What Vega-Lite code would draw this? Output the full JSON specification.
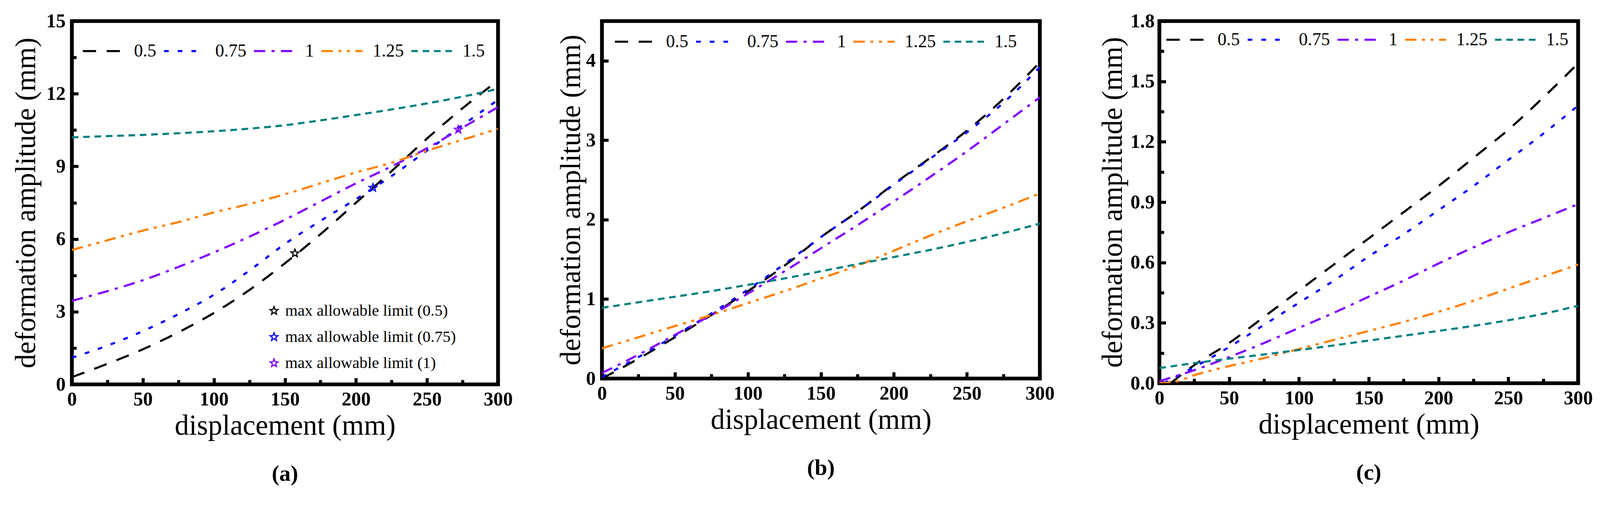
{
  "$schema": "https://vega.github.io/schema/vega-lite/v6.json",
  "padding": {"left": 27, "top": 24, "right": 0, "bottom": 0},
  "spacing": 103,
  "resolve": {"scale": {"color": "independent", "strokeDash": "independent"}, "legend": {"color": "independent", "strokeDash": "independent"}},
  "config": {
    "font": "Liberation Serif",
    "view": {"stroke": "#000000", "strokeWidth": 9.7},
    "axis": {
      "domain": false, "grid": false,
      "labelFont": "Liberation Serif", "labelFontSize": 49.6, "labelFontWeight": "bold", "labelColor": "#000000",
      "labelFlush": false, "labelOverlap": false,
      "titleFont": "Liberation Serif", "titleFontSize": 73, "titleFontWeight": "normal", "titleColor": "#000000",
      "tickColor": "#000000", "tickWidth": 7.8, "labelPadding": 33, "titlePadding": 8
    },
    "axisX": {"labelPadding": 30.5, "titlePadding": 3},
    "legend": {
      "labelFont": "Liberation Serif", "labelFontSize": 45.7, "labelColor": "#000000", "labelFontWeight": "normal",
      "symbolStrokeWidth": 5, "labelOffset": 23, "columnPadding": 8,
      "padding": 0, "labelLimit": 1000, "rowPadding": 20
    },
    "title": {"font": "Liberation Serif", "fontSize": 58, "fontWeight": "bold", "orient": "bottom", "offset": 58, "color": "#000000", "anchor": "middle"},
    "line": {"strokeWidth": 5.4, "interpolate": "monotone", "strokeCap": "butt"}
  },
  "datasets": {
    "a": [
      {"s":"0.5","x":0,"y":0.3},{"s":"0.5","x":25,"y":0.85},{"s":"0.5","x":50,"y":1.45},{"s":"0.5","x":75,"y":2.15},{"s":"0.5","x":100,"y":2.95},{"s":"0.5","x":125,"y":3.9},{"s":"0.5","x":150,"y":5.0},{"s":"0.5","x":175,"y":6.2},{"s":"0.5","x":200,"y":7.5},{"s":"0.5","x":225,"y":8.8},{"s":"0.5","x":250,"y":10.15},{"s":"0.5","x":275,"y":11.4},{"s":"0.5","x":300,"y":12.55},
      {"s":"0.75","x":0,"y":1.1},{"s":"0.75","x":25,"y":1.6},{"s":"0.75","x":50,"y":2.2},{"s":"0.75","x":75,"y":2.9},{"s":"0.75","x":100,"y":3.7},{"s":"0.75","x":125,"y":4.7},{"s":"0.75","x":150,"y":5.8},{"s":"0.75","x":175,"y":6.75},{"s":"0.75","x":200,"y":7.65},{"s":"0.75","x":225,"y":8.6},{"s":"0.75","x":250,"y":9.65},{"s":"0.75","x":275,"y":10.7},{"s":"0.75","x":300,"y":11.75},
      {"s":"1","x":0,"y":3.45},{"s":"1","x":25,"y":3.85},{"s":"1","x":50,"y":4.3},{"s":"1","x":75,"y":4.85},{"s":"1","x":100,"y":5.45},{"s":"1","x":125,"y":6.1},{"s":"1","x":150,"y":6.8},{"s":"1","x":175,"y":7.55},{"s":"1","x":200,"y":8.3},{"s":"1","x":225,"y":9.0},{"s":"1","x":250,"y":9.75},{"s":"1","x":275,"y":10.6},{"s":"1","x":300,"y":11.45},
      {"s":"1.25","x":0,"y":5.55},{"s":"1.25","x":25,"y":5.95},{"s":"1.25","x":50,"y":6.35},{"s":"1.25","x":75,"y":6.7},{"s":"1.25","x":100,"y":7.1},{"s":"1.25","x":125,"y":7.45},{"s":"1.25","x":150,"y":7.85},{"s":"1.25","x":175,"y":8.3},{"s":"1.25","x":200,"y":8.75},{"s":"1.25","x":225,"y":9.15},{"s":"1.25","x":250,"y":9.65},{"s":"1.25","x":275,"y":10.1},{"s":"1.25","x":300,"y":10.55},
      {"s":"1.5","x":0,"y":10.2},{"s":"1.5","x":25,"y":10.25},{"s":"1.5","x":50,"y":10.3},{"s":"1.5","x":75,"y":10.37},{"s":"1.5","x":100,"y":10.45},{"s":"1.5","x":125,"y":10.56},{"s":"1.5","x":150,"y":10.7},{"s":"1.5","x":175,"y":10.9},{"s":"1.5","x":200,"y":11.12},{"s":"1.5","x":225,"y":11.35},{"s":"1.5","x":250,"y":11.6},{"s":"1.5","x":275,"y":11.88},{"s":"1.5","x":300,"y":12.2}
    ],
    "stars": [
      {"x":157,"y":5.41,"label":"max allowable limit (0.5)"},
      {"x":212,"y":8.12,"label":"max allowable limit (0.75)"},
      {"x":272,"y":10.52,"label":"max allowable limit (1)"}
    ],
    "b": [
      {"s":"0.5","x":0,"y":0.0},{"s":"0.5","x":25,"y":0.25},{"s":"0.5","x":50,"y":0.52},{"s":"0.5","x":75,"y":0.8},{"s":"0.5","x":100,"y":1.1},{"s":"0.5","x":125,"y":1.42},{"s":"0.5","x":150,"y":1.78},{"s":"0.5","x":175,"y":2.1},{"s":"0.5","x":200,"y":2.45},{"s":"0.5","x":225,"y":2.78},{"s":"0.5","x":250,"y":3.12},{"s":"0.5","x":275,"y":3.52},{"s":"0.5","x":300,"y":3.98},
      {"s":"0.75","x":0,"y":0.02},{"s":"0.75","x":25,"y":0.27},{"s":"0.75","x":50,"y":0.54},{"s":"0.75","x":75,"y":0.82},{"s":"0.75","x":100,"y":1.12},{"s":"0.75","x":125,"y":1.44},{"s":"0.75","x":150,"y":1.78},{"s":"0.75","x":175,"y":2.1},{"s":"0.75","x":200,"y":2.44},{"s":"0.75","x":225,"y":2.77},{"s":"0.75","x":250,"y":3.1},{"s":"0.75","x":275,"y":3.47},{"s":"0.75","x":300,"y":3.92},
      {"s":"1","x":0,"y":0.07},{"s":"1","x":25,"y":0.3},{"s":"1","x":50,"y":0.55},{"s":"1","x":75,"y":0.8},{"s":"1","x":100,"y":1.07},{"s":"1","x":125,"y":1.35},{"s":"1","x":150,"y":1.64},{"s":"1","x":175,"y":1.93},{"s":"1","x":200,"y":2.23},{"s":"1","x":225,"y":2.54},{"s":"1","x":250,"y":2.86},{"s":"1","x":275,"y":3.2},{"s":"1","x":300,"y":3.54},
      {"s":"1.25","x":0,"y":0.38},{"s":"1.25","x":25,"y":0.52},{"s":"1.25","x":50,"y":0.66},{"s":"1.25","x":75,"y":0.8},{"s":"1.25","x":100,"y":0.95},{"s":"1.25","x":125,"y":1.1},{"s":"1.25","x":150,"y":1.26},{"s":"1.25","x":175,"y":1.42},{"s":"1.25","x":200,"y":1.61},{"s":"1.25","x":225,"y":1.8},{"s":"1.25","x":250,"y":1.98},{"s":"1.25","x":275,"y":2.15},{"s":"1.25","x":300,"y":2.33},
      {"s":"1.5","x":0,"y":0.89},{"s":"1.5","x":25,"y":0.96},{"s":"1.5","x":50,"y":1.03},{"s":"1.5","x":75,"y":1.1},{"s":"1.5","x":100,"y":1.18},{"s":"1.5","x":125,"y":1.26},{"s":"1.5","x":150,"y":1.35},{"s":"1.5","x":175,"y":1.44},{"s":"1.5","x":200,"y":1.53},{"s":"1.5","x":225,"y":1.62},{"s":"1.5","x":250,"y":1.72},{"s":"1.5","x":275,"y":1.83},{"s":"1.5","x":300,"y":1.95}
    ],
    "c": [
      {"s":"0.5","x":8,"y":0.0},{"s":"0.5","x":25,"y":0.09},{"s":"0.5","x":50,"y":0.2},{"s":"0.5","x":75,"y":0.33},{"s":"0.5","x":100,"y":0.46},{"s":"0.5","x":125,"y":0.59},{"s":"0.5","x":150,"y":0.72},{"s":"0.5","x":175,"y":0.85},{"s":"0.5","x":200,"y":0.98},{"s":"0.5","x":225,"y":1.12},{"s":"0.5","x":250,"y":1.26},{"s":"0.5","x":275,"y":1.42},{"s":"0.5","x":300,"y":1.59},
      {"s":"0.75","x":3,"y":0.0},{"s":"0.75","x":25,"y":0.08},{"s":"0.75","x":50,"y":0.18},{"s":"0.75","x":75,"y":0.29},{"s":"0.75","x":100,"y":0.4},{"s":"0.75","x":125,"y":0.51},{"s":"0.75","x":150,"y":0.63},{"s":"0.75","x":175,"y":0.74},{"s":"0.75","x":200,"y":0.86},{"s":"0.75","x":225,"y":0.98},{"s":"0.75","x":250,"y":1.11},{"s":"0.75","x":275,"y":1.24},{"s":"0.75","x":300,"y":1.38},
      {"s":"1","x":0,"y":0.01},{"s":"1","x":25,"y":0.065},{"s":"1","x":50,"y":0.13},{"s":"1","x":75,"y":0.2},{"s":"1","x":100,"y":0.275},{"s":"1","x":125,"y":0.35},{"s":"1","x":150,"y":0.43},{"s":"1","x":175,"y":0.51},{"s":"1","x":200,"y":0.595},{"s":"1","x":225,"y":0.675},{"s":"1","x":250,"y":0.75},{"s":"1","x":275,"y":0.82},{"s":"1","x":300,"y":0.89},
      {"s":"1.25","x":0,"y":0.0},{"s":"1.25","x":10,"y":0.005},{"s":"1.25","x":25,"y":0.04},{"s":"1.25","x":50,"y":0.085},{"s":"1.25","x":75,"y":0.125},{"s":"1.25","x":100,"y":0.17},{"s":"1.25","x":125,"y":0.215},{"s":"1.25","x":150,"y":0.26},{"s":"1.25","x":175,"y":0.305},{"s":"1.25","x":200,"y":0.355},{"s":"1.25","x":225,"y":0.41},{"s":"1.25","x":250,"y":0.47},{"s":"1.25","x":275,"y":0.53},{"s":"1.25","x":300,"y":0.59},
      {"s":"1.5","x":0,"y":0.075},{"s":"1.5","x":25,"y":0.1},{"s":"1.5","x":50,"y":0.122},{"s":"1.5","x":75,"y":0.143},{"s":"1.5","x":100,"y":0.165},{"s":"1.5","x":125,"y":0.188},{"s":"1.5","x":150,"y":0.212},{"s":"1.5","x":175,"y":0.236},{"s":"1.5","x":200,"y":0.26},{"s":"1.5","x":225,"y":0.285},{"s":"1.5","x":250,"y":0.313},{"s":"1.5","x":275,"y":0.345},{"s":"1.5","x":300,"y":0.385}
    ]
  },
  "hconcat": [
    {
      "width": 1091, "height": 931,
      "title": "(a)",
      "layer": [
        {
          "data": {"name": "a"},
          "mark": {"type": "line", "clip": true},
          "encoding": {
            "x": {"field": "x", "type": "quantitative", "scale": {"domain": [0, 300], "nice": false},
              "axis": {"title": "displacement (mm)", "format": "d", "values": [0,25,50,75,100,125,150,175,200,225,250,275,300],
                "labelExpr": "datum.value % 50 === 0 ? datum.label : ''",
                "tickSize": {"condition": {"test": "datum.value % 50 === 0", "value": -16.5}, "value": -11.7}}},
            "y": {"field": "y", "type": "quantitative", "scale": {"domain": [0, 15], "nice": false},
              "axis": {"title": "deformation amplitude (mm)", "format": "d", "titlePadding": 13, "values": [0,1.5,3,4.5,6,7.5,9,10.5,12,13.5,15],
                "labelExpr": "datum.value % 3 === 0 ? datum.label : ''",
                "tickSize": {"condition": {"test": "datum.value % 3 === 0", "value": -16.5}, "value": -11.7}}},
            "color": {"field": "s", "type": "nominal",
              "scale": {"domain": ["0.5","0.75","1","1.25","1.5"], "range": ["#000000","#0000FF","#8000FF","#FF8000","#008080"]},
              "legend": {"orient": "none", "legendX": 25, "legendY": 21, "columns": 5, "direction": "horizontal", "title": null, "symbolSize": 11025}},
            "strokeDash": {"field": "s", "type": "nominal",
              "scale": {"domain": ["0.5","0.75","1","1.25","1.5"], "range": [[34,27],[12,23],[29,16,8,16],[29,14,8,14,8,14],[17,12]]},
              "legend": {"orient": "none", "legendX": 25, "legendY": 21, "columns": 5, "direction": "horizontal", "title": null, "symbolSize": 11025}}
          }
        },
        {
          "data": {"name": "stars"},
          "mark": {"type": "point", "filled": false, "opacity": 1, "strokeWidth": 3, "size": 450,
            "shape": "M0,-1L0.247,-0.34L0.951,-0.309L0.399,0.13L0.588,0.809L0,0.42L-0.588,0.809L-0.399,0.13L-0.951,-0.309L-0.247,-0.34Z"},
          "encoding": {
            "x": {"field": "x", "type": "quantitative"},
            "y": {"field": "y", "type": "quantitative"},
            "stroke": {"field": "label", "type": "nominal",
              "scale": {"domain": ["max allowable limit (0.5)","max allowable limit (0.75)","max allowable limit (1)"], "range": ["#000000","#0000FF","#8000FF"]},
              "legend": {"orient": "none", "legendX": 497, "legendY": 722, "direction": "vertical", "title": null,
                "symbolType": "M0,-1L0.247,-0.34L0.951,-0.309L0.399,0.13L0.588,0.809L0,0.42L-0.588,0.809L-0.399,0.13L-0.951,-0.309L-0.247,-0.34Z",
                "symbolSize": 450, "symbolStrokeWidth": 3, "labelFontSize": 41, "labelOffset": 8, "rowPadding": 25}}
          }
        }
      ]
    },
    {
      "width": 1121, "height": 916,
      "title": "(b)",
      "data": {"name": "b"},
      "mark": {"type": "line", "clip": true},
      "encoding": {
        "x": {"field": "x", "type": "quantitative", "scale": {"domain": [0, 300], "nice": false},
          "axis": {"title": "displacement (mm)", "format": "d", "values": [0,25,50,75,100,125,150,175,200,225,250,275,300],
            "labelExpr": "datum.value % 50 === 0 ? datum.label : ''",
            "tickSize": {"condition": {"test": "datum.value % 50 === 0", "value": -16.5}, "value": -11.7}}},
        "y": {"field": "y", "type": "quantitative", "scale": {"domain": [0, 4.5], "nice": false},
          "axis": {"title": "deformation amplitude (mm)", "format": "d", "titlePadding": 0, "values": [0,0.5,1,1.5,2,2.5,3,3.5,4,4.5],
            "labelExpr": "datum.value % 1 === 0 ? datum.label : ''",
            "tickSize": {"condition": {"test": "datum.value % 1 === 0", "value": -16.5}, "value": -11.7}}},
        "color": {"field": "s", "type": "nominal",
          "scale": {"domain": ["0.5","0.75","1","1.25","1.5"], "range": ["#000000","#0000FF","#8000FF","#FF8000","#008080"]},
          "legend": {"orient": "none", "legendX": 30, "legendY": -3, "columns": 5, "direction": "horizontal", "title": null, "symbolSize": 11025}},
        "strokeDash": {"field": "s", "type": "nominal",
          "scale": {"domain": ["0.5","0.75","1","1.25","1.5"], "range": [[34,27],[12,23],[29,16,8,16],[29,14,8,14,8,14],[17,12]]},
          "legend": {"orient": "none", "legendX": 30, "legendY": -3, "columns": 5, "direction": "horizontal", "title": null, "symbolSize": 11025}}
      }
    },
    {
      "width": 1072, "height": 928,
      "title": "(c)",
      "data": {"name": "c"},
      "mark": {"type": "line", "clip": true},
      "encoding": {
        "x": {"field": "x", "type": "quantitative", "scale": {"domain": [0, 300], "nice": false},
          "axis": {"title": "displacement (mm)", "format": "d", "values": [0,25,50,75,100,125,150,175,200,225,250,275,300],
            "labelExpr": "datum.value % 50 === 0 ? datum.label : ''",
            "tickSize": {"condition": {"test": "datum.value % 50 === 0", "value": -16.5}, "value": -11.7}}},
        "y": {"field": "y", "type": "quantitative", "scale": {"domain": [0, 1.8], "nice": false},
          "axis": {"title": "deformation amplitude (mm)", "format": ".1f", "labelPadding": 29, "titlePadding": 7, "values": [0,0.15,0.3,0.45,0.6,0.75,0.9,1.05,1.2,1.35,1.5,1.65,1.8],
            "labelExpr": "abs(datum.value / 0.3 - round(datum.value / 0.3)) < 0.01 ? datum.label : ''",
            "tickSize": {"condition": {"test": "abs(datum.value / 0.3 - round(datum.value / 0.3)) < 0.01", "value": -16.5}, "value": -11.7}}},
        "color": {"field": "s", "type": "nominal",
          "scale": {"domain": ["0.5","0.75","1","1.25","1.5"], "range": ["#000000","#0000FF","#8000FF","#FF8000","#008080"]},
          "legend": {"orient": "none", "legendX": 15, "legendY": -8, "columns": 5, "direction": "horizontal", "title": null, "symbolSize": 11025}},
        "strokeDash": {"field": "s", "type": "nominal",
          "scale": {"domain": ["0.5","0.75","1","1.25","1.5"], "range": [[34,27],[12,23],[29,16,8,16],[29,14,8,14,8,14],[17,12]]},
          "legend": {"orient": "none", "legendX": 15, "legendY": -8, "columns": 5, "direction": "horizontal", "title": null, "symbolSize": 11025}}
      }
    }
  ]
}
